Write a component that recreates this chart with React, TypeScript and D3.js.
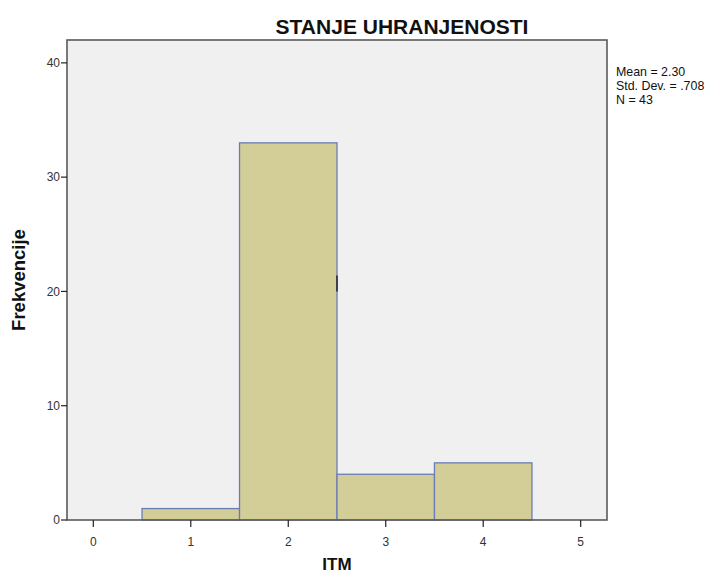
import { useEffect, useRef } from 'react'
import * as d3 from 'd3'

// histogram bins (ITM categories), frequencies
const binStarts = [0.5, 1.5, 2.5, 3.5]
const binEnds = [1.5, 2.5, 3.5, 4.5]
const frequencies = [1, 33, 4, 5]
const xTicks = [0, 1, 2, 3, 4, 5]
const yTicks = [0, 10, 20, 30, 40]
const statsLines = ['Mean = 2.30', 'Std. Dev. = .708', 'N = 43']

const title = 'STANJE UHRANJENOSTI'
const xLabel = 'ITM'
const yLabel = 'Frekvencije'

export default function App() {
  const svgRef = useRef<SVGSVGElement>(null)
  const width = 718
  const height = 574
  const margin = { top: 40, right: 111, bottom: 54, left: 67 }

  useEffect(() => {
    if (!svgRef.current) return
    const svg = d3.select(svgRef.current)
    svg.selectAll('*').remove()

    const innerWidth = width - margin.left - margin.right
    const innerHeight = height - margin.top - margin.bottom
    const font = '"Liberation Sans", Arial, sans-serif'

    const x = d3.scaleLinear().domain([-0.27, 5.27]).range([0, innerWidth])
    const y = d3.scaleLinear().domain([0, 42]).range([innerHeight, 0])

    svg.append('rect').attr('width', width).attr('height', height).attr('fill', '#ffffff')

    // Title
    svg.append('text')
      .attr('x', 402)
      .attr('y', 34)
      .attr('text-anchor', 'middle')
      .attr('font-family', font)
      .attr('font-size', '21px')
      .attr('font-weight', 'bold')
      .attr('fill', '#111')
      .text(title)

    const g = svg.append('g').attr('transform', `translate(${margin.left},${margin.top})`)

    // plot background
    g.append('rect')
      .attr('width', innerWidth)
      .attr('height', innerHeight)
      .attr('fill', '#f0f0f0')

    // bars
    g.selectAll('.bar')
      .data(frequencies.map((v, i) => ({ v, x0: binStarts[i], x1: binEnds[i] })))
      .enter()
      .append('rect')
      .attr('class', 'bar')
      .attr('x', d => x(d.x0))
      .attr('y', d => y(d.v))
      .attr('width', d => x(d.x1) - x(d.x0))
      .attr('height', d => y(0) - y(d.v))
      .attr('fill', '#d3ce97')
      .attr('stroke', '#6a7cb8')
      .attr('stroke-width', 1.3)

    // small dark artifact on the right edge of the tallest bar
    g.append('line')
      .attr('x1', x(2.5))
      .attr('x2', x(2.5))
      .attr('y1', y(21.4))
      .attr('y2', y(20.0))
      .attr('stroke', '#222')
      .attr('stroke-width', 1.5)

    // frame
    g.append('rect')
      .attr('width', innerWidth)
      .attr('height', innerHeight)
      .attr('fill', 'none')
      .attr('stroke', '#5a5a5a')
      .attr('stroke-width', 1.6)

    // y axis
    const yAxis = g.append('g')
    yAxis.selectAll('line')
      .data(yTicks)
      .enter()
      .append('line')
      .attr('x1', -6)
      .attr('x2', 0)
      .attr('y1', d => y(d))
      .attr('y2', d => y(d))
      .attr('stroke', '#222')
      .attr('stroke-width', 1.2)
    yAxis.selectAll('text')
      .data(yTicks)
      .enter()
      .append('text')
      .attr('x', -7)
      .attr('y', d => y(d))
      .attr('dy', '0.35em')
      .attr('text-anchor', 'end')
      .attr('font-family', font)
      .attr('font-size', '12px')
      .attr('fill', '#333')
      .text(d => d)

    // x axis
    const xAxis = g.append('g').attr('transform', `translate(0,${innerHeight})`)
    xAxis.selectAll('line')
      .data(xTicks)
      .enter()
      .append('line')
      .attr('x1', d => x(d))
      .attr('x2', d => x(d))
      .attr('y1', 0)
      .attr('y2', 7)
      .attr('stroke', '#222')
      .attr('stroke-width', 1.2)
    xAxis.selectAll('text')
      .data(xTicks)
      .enter()
      .append('text')
      .attr('x', d => x(d))
      .attr('y', 22)
      .attr('dy', '0.35em')
      .attr('text-anchor', 'middle')
      .attr('font-family', font)
      .attr('font-size', '12px')
      .attr('fill', '#333')
      .text(d => d)

    // axis labels
    svg.append('text')
      .attr('x', margin.left + x(2.5))
      .attr('y', 570)
      .attr('text-anchor', 'middle')
      .attr('font-family', font)
      .attr('font-size', '17px')
      .attr('font-weight', 'bold')
      .attr('fill', '#111')
      .text(xLabel)

    svg.append('text')
      .attr('transform', `translate(25,${margin.top + innerHeight / 2}) rotate(-90)`)
      .attr('text-anchor', 'middle')
      .attr('font-family', font)
      .attr('font-size', '18.5px')
      .attr('font-weight', 'bold')
      .attr('fill', '#111')
      .text(yLabel)

    // stats box text
    svg.selectAll('.stat')
      .data(statsLines)
      .enter()
      .append('text')
      .attr('class', 'stat')
      .attr('x', 616)
      .attr('y', (_, i) => 76 + i * 13.9)
      .attr('font-family', font)
      .attr('font-size', '12.4px')
      .attr('fill', '#111')
      .text(d => d)
  }, [])

  return (
    <svg
      ref={svgRef}
      width={width}
      height={height}
      style={{ position: 'absolute', top: 0, left: 0, display: 'block' }}
    />
  )
}
